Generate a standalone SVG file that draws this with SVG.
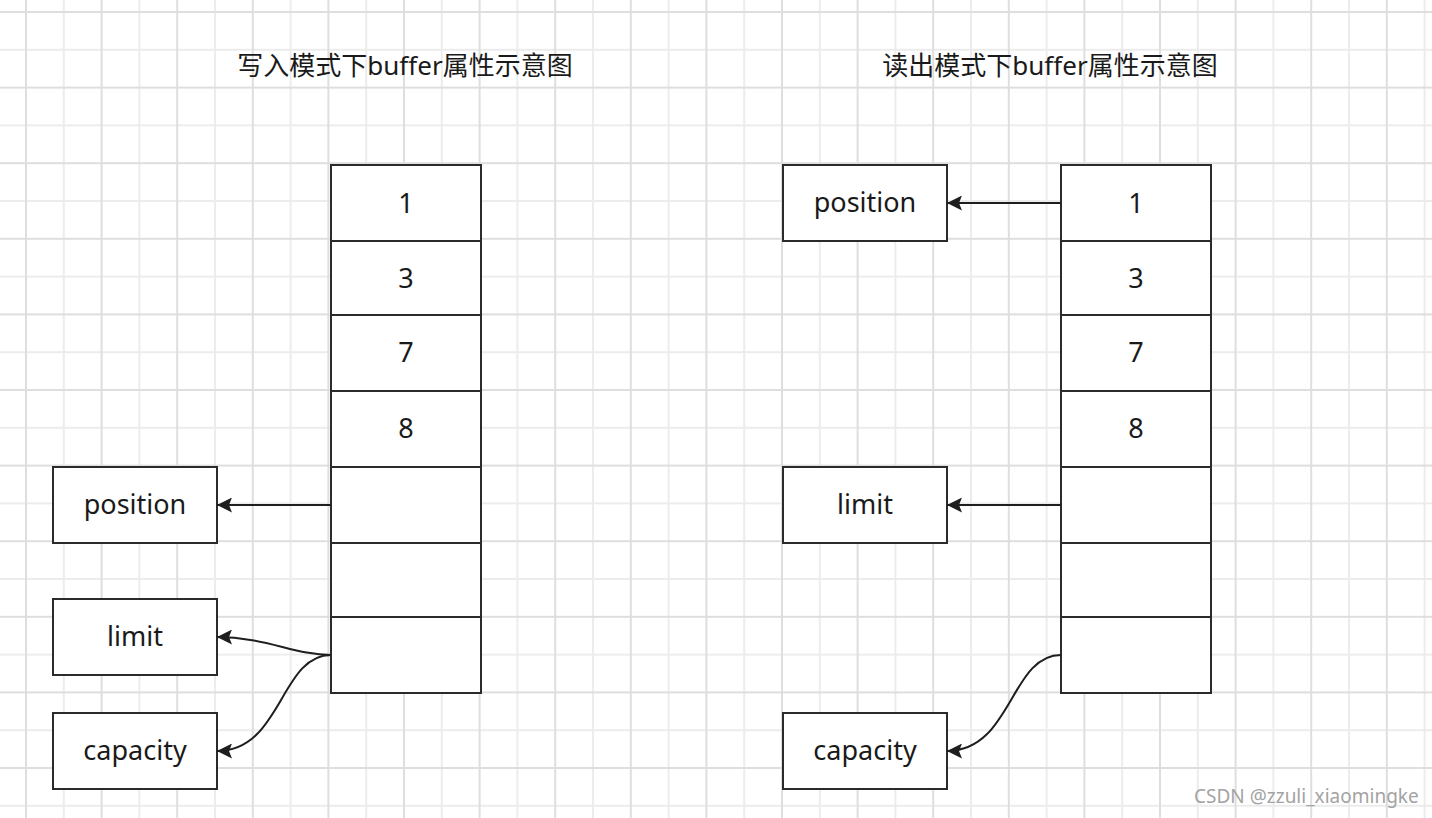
<svg xmlns="http://www.w3.org/2000/svg" width="1432" height="818" viewBox="0 0 1432 818">
<defs>
<pattern id="grid" patternUnits="userSpaceOnUse" x="7.1" y="-6.9" width="75.6" height="75.6">
<line x1="56.7" y1="0" x2="56.7" y2="75.6" stroke="#ececec" stroke-width="2"/>
<line x1="0" y1="56.7" x2="75.6" y2="56.7" stroke="#ececec" stroke-width="2"/>
<line x1="18.9" y1="0" x2="18.9" y2="75.6" stroke="#dedede" stroke-width="2"/>
<line x1="0" y1="18.9" x2="75.6" y2="18.9" stroke="#dedede" stroke-width="2"/>
</pattern>
<marker id="arr" markerUnits="userSpaceOnUse" markerWidth="17" markerHeight="15" refX="15" refY="7.5" orient="auto">
<path d="M0,0 L15,7.5 L0,15 L3,7.5 z" fill="#1e1e1e"/>
</marker>
<style>
.box{fill:#ffffff;stroke:#2b2b2b;stroke-width:2}
.div{stroke:#2b2b2b;stroke-width:2}
.lbl{font-family:"Noto Sans","Noto Sans CJK SC",sans-serif;font-size:27px;fill:#1a1a1a;text-anchor:middle}
.title{font-family:"Noto Sans","Noto Sans CJK SC",sans-serif;font-size:26px;fill:#1a1a1a;text-anchor:middle}
.edge{fill:none;stroke:#1e1e1e;stroke-width:2;marker-end:url(#arr)}
.wm{font-family:"Noto Sans",sans-serif;font-size:19px;fill:#a3a3a3}
</style>
</defs>
<rect x="0" y="0" width="1432" height="818" fill="#ffffff"/>
<rect x="0" y="0" width="1432" height="818" fill="url(#grid)"/>

<text class="title" x="405" y="75">写入模式下buffer属性示意图</text>
<text class="title" x="1050" y="75">读出模式下buffer属性示意图</text>

<g id="bufferWrite">
<rect class="box" x="331" y="165" width="150" height="528"/>
<line class="div" x1="331" y1="241" x2="481" y2="241"/>
<line class="div" x1="331" y1="315" x2="481" y2="315"/>
<line class="div" x1="331" y1="391" x2="481" y2="391"/>
<line class="div" x1="331" y1="467" x2="481" y2="467"/>
<line class="div" x1="331" y1="543" x2="481" y2="543"/>
<line class="div" x1="331" y1="617" x2="481" y2="617"/>
<text class="lbl" x="406" y="213">1</text>
<text class="lbl" x="406" y="288">3</text>
<text class="lbl" x="406" y="362">7</text>
<text class="lbl" x="406" y="438">8</text>
</g>

<g id="bufferRead">
<rect class="box" x="1061" y="165" width="150" height="528"/>
<line class="div" x1="1061" y1="241" x2="1211" y2="241"/>
<line class="div" x1="1061" y1="315" x2="1211" y2="315"/>
<line class="div" x1="1061" y1="391" x2="1211" y2="391"/>
<line class="div" x1="1061" y1="467" x2="1211" y2="467"/>
<line class="div" x1="1061" y1="543" x2="1211" y2="543"/>
<line class="div" x1="1061" y1="617" x2="1211" y2="617"/>
<text class="lbl" x="1136" y="213">1</text>
<text class="lbl" x="1136" y="288">3</text>
<text class="lbl" x="1136" y="362">7</text>
<text class="lbl" x="1136" y="438">8</text>
</g>

<g id="positionW"><rect class="box" x="53" y="467" width="164" height="76"/><text class="lbl" x="135" y="514">position</text></g>
<g id="limitW"><rect class="box" x="53" y="599" width="164" height="76"/><text class="lbl" x="135" y="646">limit</text></g>
<g id="capacityW"><rect class="box" x="53" y="713" width="164" height="76"/><text class="lbl" x="135" y="760">capacity</text></g>

<g id="positionR"><rect class="box" x="783" y="165" width="164" height="76"/><text class="lbl" x="865" y="212">position</text></g>
<g id="limitR"><rect class="box" x="783" y="467" width="164" height="76"/><text class="lbl" x="865" y="514">limit</text></g>
<g id="capacityR"><rect class="box" x="783" y="713" width="164" height="76"/><text class="lbl" x="865" y="760">capacity</text></g>

<g id="connectors">
<path class="edge" d="M331,505 L217,505"/>
<path class="edge" d="M331,655 C295,655 265,637 217,637"/>
<path class="edge" d="M331,655 C280,655 282,751 217,751"/>
<path class="edge" d="M1061,203 L947,203"/>
<path class="edge" d="M1061,505 L947,505"/>
<path class="edge" d="M1061,655 C1010,655 1012,751 947,751"/>
</g>

<text class="wm" x="1194" y="803">CSDN @zzuli_xiaomingke</text>
</svg>
